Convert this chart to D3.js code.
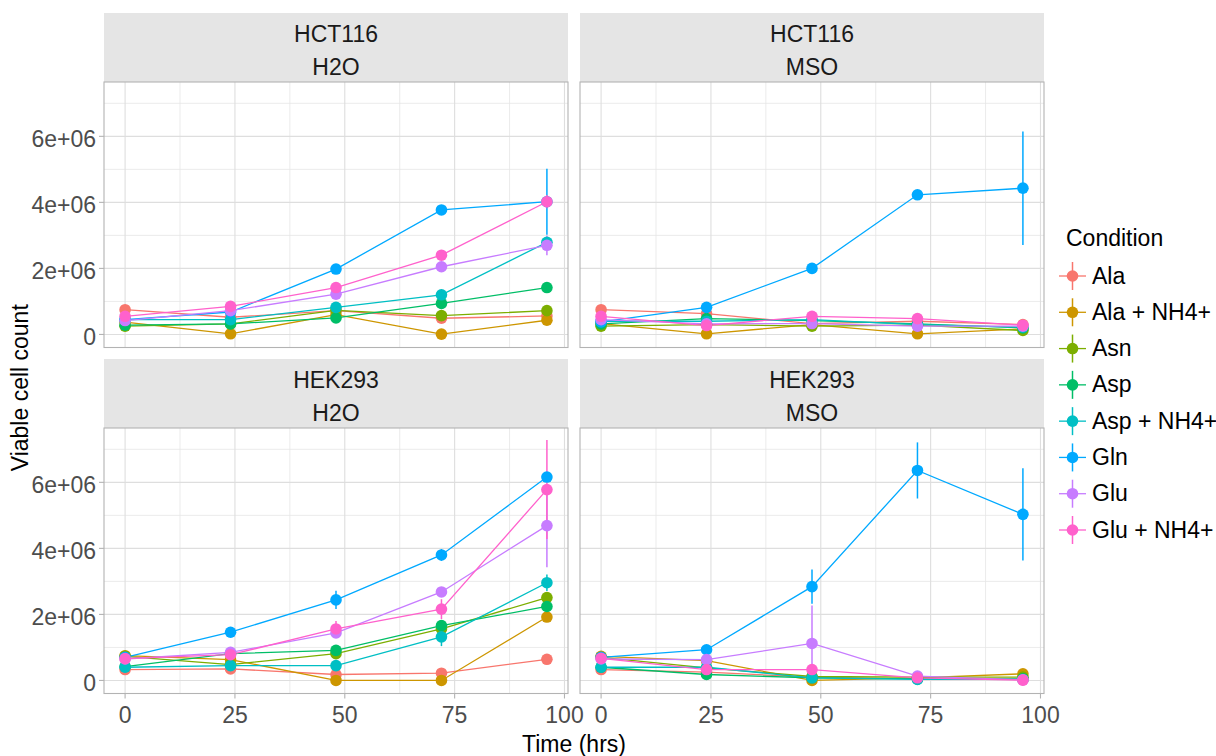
<!DOCTYPE html>
<html>
<head>
<meta charset="utf-8">
<script src="https://cdn.jsdelivr.net/npm/d3@7"></script>
<style>
  html, body { margin: 0; padding: 0; background: #fff; }
  svg { display: block; font-family: "Liberation Sans", Arial, sans-serif; }
</style>
</head>
<body>
<svg id="chart" width="1216" height="756"></svg>
<script>
// Sampling times (hrs)
const times = [0, 24, 48, 72, 96];

// Conditions and their colours (ggplot hue palette)
const conditions = ["Ala", "Ala + NH4+", "Asn", "Asp", "Asp + NH4+", "Gln", "Glu", "Glu + NH4+"];
const colors = ["#F8766D", "#CD9600", "#7CAE00", "#00BE67", "#00BFC4", "#00A9FF", "#C77CFF", "#FF61CC"];

// Facets
const cellLines = ["HCT116", "HEK293"];
const treatments = ["H2O", "MSO"];

// Mean viable cell counts (millions), one row per condition
const hct116H2O = [
  [0.75, 0.52, 0.72, 0.49, 0.56],
  [0.37, 0.02, 0.60, 0.01, 0.43],
  [0.25, 0.32, 0.73, 0.57, 0.72],
  [0.28, 0.32, 0.50, 0.94, 1.42],
  [0.45, 0.45, 0.82, 1.20, 2.79],
  [0.45, 0.68, 1.98, 3.77, 4.02],
  [0.42, 0.72, 1.22, 2.05, 2.70],
  [0.55, 0.85, 1.42, 2.40, 4.02]
];
const hct116MSO = [
  [0.75, 0.63, 0.33, 0.40, 0.30],
  [0.33, 0.02, 0.30, 0.02, 0.17],
  [0.25, 0.30, 0.25, 0.28, 0.12],
  [0.32, 0.48, 0.42, 0.32, 0.20],
  [0.40, 0.40, 0.45, 0.30, 0.22],
  [0.38, 0.82, 2.00, 4.23, 4.43],
  [0.45, 0.32, 0.33, 0.25, 0.25],
  [0.55, 0.27, 0.55, 0.48, 0.28]
];
const hek293H2O = [
  [0.33, 0.35, 0.18, 0.22, 0.64],
  [0.75, 0.63, 0.00, 0.00, 1.92],
  [0.73, 0.48, 0.81, 1.56, 2.51],
  [0.42, 0.81, 0.91, 1.66, 2.24],
  [0.40, 0.45, 0.45, 1.32, 2.96],
  [0.70, 1.46, 2.44, 3.80, 6.16],
  [0.65, 0.85, 1.44, 2.68, 4.69],
  [0.66, 0.78, 1.56, 2.16, 5.78]
];
const hek293MSO = [
  [0.33, 0.25, 0.10, 0.05, 0.03],
  [0.73, 0.60, 0.00, 0.08, 0.20],
  [0.70, 0.38, 0.12, 0.10, 0.10],
  [0.40, 0.18, 0.08, 0.05, 0.05],
  [0.40, 0.40, 0.08, 0.03, 0.03],
  [0.70, 0.93, 2.84, 6.36, 5.03],
  [0.65, 0.63, 1.12, 0.13, 0.02],
  [0.67, 0.33, 0.33, 0.08, 0.01]
];

// Standard errors (millions), same layout
const hct116H2OSe = [
  [0.04, 0.04, 0.04, 0.04, 0.04],
  [0.04, 0.02, 0.04, 0.01, 0.04],
  [0.04, 0.04, 0.04, 0.04, 0.04],
  [0.04, 0.04, 0.04, 0.04, 0.04],
  [0.04, 0.04, 0.04, 0.04, 0.05],
  [0.04, 0.05, 0.08, 0.06, 1.00],
  [0.04, 0.04, 0.05, 0.06, 0.30],
  [0.04, 0.04, 0.06, 0.06, 0.20]
];
const hct116MSOSe = [
  [0.04, 0.04, 0.04, 0.04, 0.04],
  [0.04, 0.02, 0.04, 0.02, 0.04],
  [0.04, 0.04, 0.04, 0.04, 0.04],
  [0.04, 0.04, 0.04, 0.04, 0.04],
  [0.04, 0.04, 0.04, 0.04, 0.04],
  [0.04, 0.05, 0.06, 0.08, 1.72],
  [0.04, 0.04, 0.04, 0.04, 0.04],
  [0.04, 0.04, 0.04, 0.04, 0.04]
];
const hek293H2OSe = [
  [0.04, 0.04, 0.04, 0.04, 0.04],
  [0.04, 0.04, 0.00, 0.00, 0.05],
  [0.04, 0.04, 0.05, 0.05, 0.06],
  [0.04, 0.04, 0.05, 0.05, 0.06],
  [0.04, 0.04, 0.05, 0.28, 0.25],
  [0.04, 0.05, 0.28, 0.18, 0.10],
  [0.04, 0.04, 0.06, 0.08, 1.26],
  [0.04, 0.04, 0.24, 0.30, 1.50]
];
const hek293MSOSe = [
  [0.03, 0.03, 0.03, 0.03, 0.02],
  [0.03, 0.03, 0.00, 0.03, 0.03],
  [0.03, 0.03, 0.03, 0.03, 0.03],
  [0.03, 0.03, 0.03, 0.03, 0.03],
  [0.03, 0.03, 0.03, 0.02, 0.02],
  [0.03, 0.08, 0.52, 0.85, 1.40],
  [0.03, 0.03, 1.15, 0.03, 0.02],
  [0.03, 0.03, 0.03, 0.03, 0.01]
];

// Axis ticks
const xTicks = [0, 25, 50, 75, 100];
const xMinor = [12.5, 37.5, 62.5, 87.5];
const yTicks = [0, 2e6, 4e6, 6e6];
const yTickLabels = ["0", "2e+06", "4e+06", "6e+06"];
const yMinor = [1e6, 3e6, 5e6, 7e6];

const panels = [
  { row: 0, col: 0, mean: hct116H2O, se: hct116H2OSe },
  { row: 0, col: 1, mean: hct116MSO, se: hct116MSOSe },
  { row: 1, col: 0, mean: hek293H2O, se: hek293H2OSe },
  { row: 1, col: 1, mean: hek293MSO, se: hek293MSOSe }
];

// ---- layout ----
const FONT = 23;
const panelX = [104, 580];
const panelW = 464;
const stripTop = [13, 359];
const stripH = 69;
const panelH = 265.5;

const svg = d3.select("#chart");

// Shared scales (fixed across facets), 5% expansion like ggplot
let lo = Infinity, hi = -Infinity;
panels.forEach(p => p.mean.forEach((row, i) => row.forEach((m, j) => {
  lo = Math.min(lo, (m - p.se[i][j]) * 1e6);
  hi = Math.max(hi, (m + p.se[i][j]) * 1e6);
})));
const yPad = (hi - lo) * 0.05;
const xExt = d3.extent(times);
const xPad = (xExt[1] - xExt[0]) * 0.05;

panels.forEach(p => {
  const x0 = panelX[p.col];
  const sTop = stripTop[p.row];
  const pTop = sTop + stripH;

  const x = d3.scaleLinear().domain([xExt[0] - xPad, xExt[1] + xPad]).range([x0, x0 + panelW]);
  const y = d3.scaleLinear().domain([lo - yPad, hi + yPad]).range([pTop + panelH, pTop]);

  const g = svg.append("g");

  // strip
  g.append("rect").attr("x", x0).attr("y", sTop).attr("width", panelW).attr("height", stripH)
    .attr("fill", "#e5e5e5");
  g.append("text").attr("x", x0 + panelW / 2).attr("y", sTop + 29).attr("text-anchor", "middle")
    .attr("font-size", FONT).attr("fill", "#1a1a1a").text(cellLines[p.row]);
  g.append("text").attr("x", x0 + panelW / 2).attr("y", sTop + 62).attr("text-anchor", "middle")
    .attr("font-size", FONT).attr("fill", "#1a1a1a").text(treatments[p.col]);

  // grid
  const grid = g.append("g");
  grid.selectAll(".ymin").data(yMinor.filter(v => v > y.domain()[0] && v < y.domain()[1])).join("line")
    .attr("x1", x0).attr("x2", x0 + panelW).attr("y1", d => y(d)).attr("y2", d => y(d))
    .attr("stroke", "#e6e6e6").attr("stroke-width", 0.8);
  grid.selectAll(".xmin").data(xMinor).join("line")
    .attr("y1", pTop).attr("y2", pTop + panelH).attr("x1", d => x(d)).attr("x2", d => x(d))
    .attr("stroke", "#e6e6e6").attr("stroke-width", 0.8);
  grid.selectAll(".ymaj").data(yTicks).join("line")
    .attr("x1", x0).attr("x2", x0 + panelW).attr("y1", d => y(d)).attr("y2", d => y(d))
    .attr("stroke", "#dedede").attr("stroke-width", 1.1);
  grid.selectAll(".xmaj").data(xTicks).join("line")
    .attr("y1", pTop).attr("y2", pTop + panelH).attr("x1", d => x(d)).attr("x2", d => x(d))
    .attr("stroke", "#dedede").attr("stroke-width", 1.1);

  // lines
  const line = d3.line().x((d, j) => x(times[j])).y(d => y(d * 1e6));
  p.mean.forEach((row, i) => {
    g.append("path").datum(row).attr("d", line).attr("fill", "none")
      .attr("stroke", colors[i]).attr("stroke-width", 1.3);
  });

  // ranges then points
  p.mean.forEach((row, i) => {
    row.forEach((m, j) => {
      const s = p.se[i][j];
      g.append("line").attr("x1", x(times[j])).attr("x2", x(times[j]))
        .attr("y1", y((m - s) * 1e6)).attr("y2", y((m + s) * 1e6))
        .attr("stroke", colors[i]).attr("stroke-width", 1.5);
    });
  });
  p.mean.forEach((row, i) => {
    g.selectAll(null).data(row).join("circle")
      .attr("cx", (d, j) => x(times[j])).attr("cy", d => y(d * 1e6)).attr("r", 5.8)
      .attr("fill", colors[i]);
  });

  // border
  g.append("rect").attr("x", x0).attr("y", pTop).attr("width", panelW).attr("height", panelH)
    .attr("fill", "none").attr("stroke", "#b3b3b3").attr("stroke-width", 1.1);

  // y axis (left column)
  if (p.col === 0) {
    const ya = g.append("g");
    ya.selectAll("line").data(yTicks).join("line")
      .attr("x1", x0 - 5).attr("x2", x0).attr("y1", d => y(d)).attr("y2", d => y(d))
      .attr("stroke", "#b3b3b3").attr("stroke-width", 1.1);
    ya.selectAll("text").data(yTicks).join("text")
      .attr("x", x0 - 8).attr("y", d => y(d) + 10.5).attr("text-anchor", "end")
      .attr("font-size", FONT).attr("fill", "#4d4d4d").text((d, k) => yTickLabels[k]);
  }
  // x axis (bottom row)
  if (p.row === 1) {
    const xa = g.append("g");
    const yb = pTop + panelH;
    xa.selectAll("line").data(xTicks).join("line")
      .attr("y1", yb).attr("y2", yb + 5).attr("x1", d => x(d)).attr("x2", d => x(d))
      .attr("stroke", "#b3b3b3").attr("stroke-width", 1.1);
    xa.selectAll("text").data(xTicks).join("text")
      .attr("x", d => x(d)).attr("y", yb + 29).attr("text-anchor", "middle")
      .attr("font-size", FONT).attr("fill", "#4d4d4d").text(d => d);
  }
});

// axis titles
svg.append("text").attr("x", (panelX[0] + panelX[1] + panelW) / 2).attr("y", 752)
  .attr("text-anchor", "middle").attr("font-size", FONT).attr("fill", "#000").text("Time (hrs)");
svg.append("text").attr("transform", `translate(28,${(stripTop[0] + stripH + stripTop[1] + stripH + panelH) / 2}) rotate(-90)`)
  .attr("text-anchor", "middle").attr("font-size", FONT).attr("fill", "#000").text("Viable cell count");

// legend
const lg = svg.append("g");
lg.append("text").attr("x", 1066).attr("y", 246).attr("font-size", FONT).attr("fill", "#000").text("Condition");
const keyY = d3.scalePoint().domain(conditions).range([276, 530]);
conditions.forEach((c, i) => {
  const cy = keyY(c);
  lg.append("line").attr("x1", 1059).attr("x2", 1086).attr("y1", cy).attr("y2", cy)
    .attr("stroke", colors[i]).attr("stroke-width", 1.3);
  lg.append("line").attr("x1", 1072.5).attr("x2", 1072.5).attr("y1", cy - 14).attr("y2", cy + 14)
    .attr("stroke", colors[i]).attr("stroke-width", 1.5);
  lg.append("circle").attr("cx", 1072.5).attr("cy", cy).attr("r", 5.8).attr("fill", colors[i]);
  lg.append("text").attr("x", 1092).attr("y", cy + 7.5).attr("font-size", FONT).attr("fill", "#000").text(c);
});
</script>
</body>
</html>
